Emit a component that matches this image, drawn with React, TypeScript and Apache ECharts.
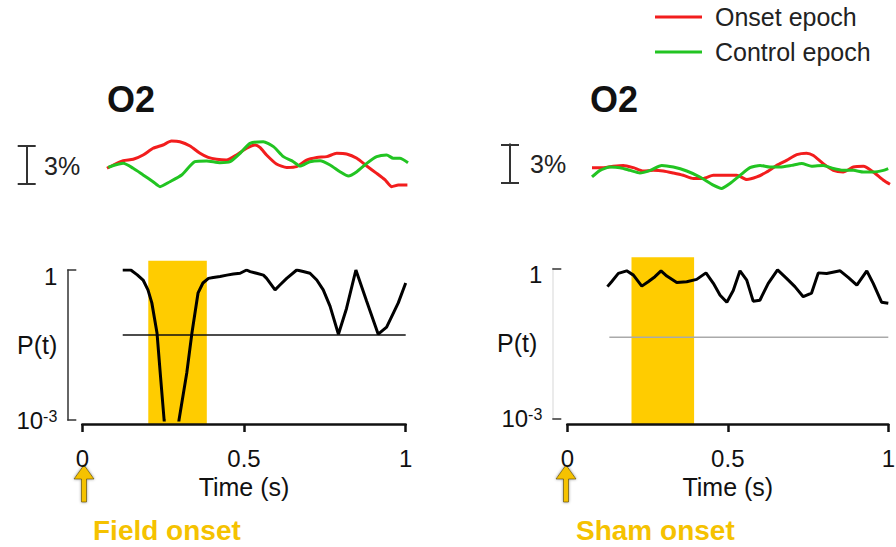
import React, { useEffect, useRef } from 'react';
import * as echarts from 'echarts';

// ---------- data ----------
const legendNames = ['Onset epoch', 'Control epoch'];
const timeTicks = [0, 0.5, 1];

// EEG traces (% relative, time 0..1 of upper panel)
const leftOnsetEpoch = [[0,1.24],[0.021,1.5],[0.054,1.84],[0.087,1.95],[0.12,2.29],[0.153,2.82],[0.186,3.08],[0.214,3.39],[0.242,3.34],[0.276,3.0],[0.309,2.42],[0.336,2.1],[0.364,1.95],[0.397,1.89],[0.43,2.29],[0.464,2.82],[0.492,3.08],[0.508,2.89],[0.53,2.29],[0.563,1.58],[0.597,1.31],[0.63,1.37],[0.663,1.89],[0.697,2.1],[0.73,2.16],[0.763,2.42],[0.796,2.37],[0.83,2.03],[0.863,1.42],[0.896,0.84],[0.924,0.32],[0.946,-0.21],[0.968,-0.08],[0.998,-0.08]];
const leftControlEpoch = [[0.004,1.31],[0.027,1.5],[0.054,1.63],[0.087,1.24],[0.12,0.71],[0.153,0.18],[0.176,-0.21],[0.209,0.18],[0.248,0.71],[0.292,1.76],[0.331,1.82],[0.375,1.68],[0.409,1.76],[0.442,2.42],[0.475,3.21],[0.519,3.34],[0.553,2.95],[0.586,2.16],[0.619,1.76],[0.641,1.42],[0.674,1.76],[0.708,1.84],[0.741,1.5],[0.774,0.97],[0.802,0.63],[0.83,0.97],[0.863,1.63],[0.896,2.16],[0.929,2.29],[0.951,2.03],[0.973,2.03],[1.0,1.68]];
const rightOnsetEpoch = [[0,1.18],[0.038,1.18],[0.071,1.29],[0.105,1.36],[0.139,1.18],[0.172,0.92],[0.206,0.97],[0.239,0.92],[0.273,0.76],[0.306,0.58],[0.34,0.33],[0.373,0.33],[0.407,0.58],[0.452,0.58],[0.486,0.58],[0.519,0.25],[0.553,0.45],[0.586,0.84],[0.62,1.36],[0.653,1.75],[0.687,2.2],[0.72,2.32],[0.743,2.14],[0.776,1.5],[0.81,0.97],[0.843,0.84],[0.877,1.23],[0.911,1.29],[0.944,0.84],[0.978,0.19],[1.0,-0.12]];
const rightControlEpoch = [[0,0.45],[0.027,0.97],[0.06,1.23],[0.094,1.18],[0.128,0.97],[0.161,0.76],[0.195,0.97],[0.234,1.36],[0.273,1.23],[0.318,0.92],[0.362,0.45],[0.407,-0.19],[0.435,-0.45],[0.463,-0.06],[0.497,0.58],[0.53,1.18],[0.564,1.36],[0.597,1.23],[0.631,1.23],[0.67,1.36],[0.704,1.5],[0.737,1.29],[0.776,1.36],[0.81,1.11],[0.843,0.97],[0.877,0.97],[0.911,0.84],[0.944,0.84],[0.978,0.97],[0.994,1.11]];

// P(t) curves: [time s, probability]
const leftP = [[0.125,1.0],[0.15,1.0],[0.17,0.8],[0.188,0.63],[0.203,0.4],[0.215,0.22],[0.231,0.055],[0.241,0.0087],[0.253,0.001],[0.276,0.00002],[0.299,0.001],[0.323,0.0087],[0.339,0.055],[0.358,0.35],[0.373,0.55],[0.39,0.68],[0.405,0.71],[0.426,0.74],[0.447,0.79],[0.467,0.83],[0.488,0.86],[0.508,1.0],[0.519,0.93],[0.539,0.86],[0.56,0.79],[0.57,0.68],[0.596,0.4],[0.611,0.5],[0.632,0.68],[0.663,1.0],[0.683,0.93],[0.704,0.86],[0.725,0.63],[0.745,0.4],[0.766,0.19],[0.792,0.052],[0.817,0.17],[0.846,1.0],[0.879,0.24],[0.915,0.052],[0.941,0.072],[0.977,0.22],[1.0,0.55]];
const rightP = [[0.125,0.43],[0.138,0.54],[0.159,0.79],[0.185,0.89],[0.206,0.73],[0.232,0.44],[0.252,0.54],[0.273,0.68],[0.292,0.89],[0.31,0.7],[0.341,0.52],[0.372,0.54],[0.403,0.6],[0.432,0.81],[0.455,0.5],[0.476,0.29],[0.497,0.21],[0.517,0.36],[0.538,0.89],[0.559,0.58],[0.579,0.22],[0.6,0.23],[0.626,0.5],[0.655,0.93],[0.683,0.63],[0.709,0.43],[0.735,0.27],[0.761,0.32],[0.782,0.81],[0.808,0.79],[0.85,0.89],[0.875,0.66],[0.902,0.46],[0.933,0.89],[0.953,0.5],[0.979,0.21],[1.0,0.2]];

const leftThreshold = [[0.125, 0.05], [1.0, 0.05]];
const rightThreshold = [[0.131, 0.042], [1.0, 0.042]];
const leftWindow = [[0.204, 0.385]];
const rightWindow = [[0.2, 0.395]];

const FONT = 'Liberation Sans, Arial, Helvetica, sans-serif';
const RED = '#f21d1d';
const GREEN = '#22c422';
const YELLOW = '#ffcc00';
const ARROW = '#f5c200';

const toLog = (arr: number[][]) => arr.map(([t, p]) => [t, Math.log10(p)]);

function pLabel(v: number) {
  if (v === 0) return '{one|1}';
  if (v === -3) return '{b|10}{s|-3}';
  return '';
}

function windowRender(params: any, api: any) {
  const a = api.coord([api.value(0), 1]);
  const b = api.coord([api.value(1), 0]);
  return {
    type: 'rect',
    shape: { x: a[0], y: a[1], width: b[0] - a[0], height: b[1] - a[1] },
    style: { fill: YELLOW },
  };
}

function arrow(cx: number) {
  return {
    type: 'polygon',
    shape: {
      points: [[cx, 465], [cx + 10, 479], [cx + 2.5, 479], [cx + 2.5, 502], [cx - 2.5, 502], [cx - 2.5, 479], [cx - 10, 479]],
    },
    style: { fill: ARROW, stroke: 'rgba(70,55,0,0.55)', lineWidth: 1, shadowBlur: 3, shadowColor: 'rgba(0,0,0,0.45)' },
  };
}

function barAxis(gridIndex: number, offset: number, inside: boolean) {
  return {
    type: 'value', gridIndex, min: 0, max: 3, interval: 3, position: 'left', offset,
    axisLine: { show: true, onZero: false, lineStyle: { color: '#333', width: 2 } },
    axisTick: { show: true, inside, length: 9, lineStyle: { color: '#333', width: 2 } },
    axisLabel: { show: false }, splitLine: { show: false },
  };
}

function pAxis(gridIndex: number, lineColor: string, nameGap: number) {
  return {
    type: 'value', gridIndex, min: -3, max: 0, interval: 3, position: 'left', offset: 15,
    name: 'P(t)', nameLocation: 'middle', nameRotate: 0, nameGap, nameMoveOverlap: false,
    nameTextStyle: { fontSize: 25, color: '#111', fontFamily: FONT, padding: [8, 0, 0, 0] },
    axisLine: { show: true, onZero: false, lineStyle: { color: lineColor, width: 1.5 } },
    axisTick: { show: true, inside: true, length: 9, lineStyle: { color: '#333', width: 1.5 } },
    axisLabel: {
      formatter: pLabel, margin: 10, color: '#111', fontFamily: FONT,
      rich: {
        one: { fontSize: 24, fontFamily: FONT, color: '#111', padding: [12, 0, 0, 0] },
        b: { fontSize: 24, fontFamily: FONT, color: '#111', verticalAlign: 'bottom' },
        s: { fontSize: 16, fontFamily: FONT, color: '#111', verticalAlign: 'top' },
      },
    },
    splitLine: { show: false },
  };
}

function timeAxis(gridIndex: number) {
  return {
    type: 'value', gridIndex, min: 0, max: 1, interval: 0.5, z: 5,
    name: 'Time (s)', nameLocation: 'middle', nameGap: 50,
    nameTextStyle: { fontSize: 25, color: '#111', fontFamily: FONT },
    axisLine: { show: true, lineStyle: { color: '#111', width: 2.5 } },
    axisTick: { show: true, length: 8, lineStyle: { color: '#111', width: 2.5 } },
    axisLabel: { fontSize: 24, color: '#111', margin: 22, fontFamily: FONT, formatter: (v: number) => (timeTicks.includes(v) ? String(v) : '') },
    splitLine: { show: false },
  };
}

const hiddenX = (gridIndex: number) => ({ type: 'value', gridIndex, min: 0, max: 1, show: false });
const hiddenY = (gridIndex: number) => ({ type: 'value', gridIndex, min: 0, max: 1, show: false });

function eegSeries(name: string, color: string, data: number[][], axis: number) {
  return {
    type: 'line', name, data, xAxisIndex: axis, yAxisIndex: axis, symbol: 'none', clip: false,
    smooth: 0.2, lineStyle: { color, width: 3 }, itemStyle: { color }, z: 3,
  };
}

const g = (o: any) => ({ ...o, containLabel: false, outerBoundsMode: 'none' });

export default function App() {
  const ref = useRef<HTMLDivElement>(null);
  useEffect(() => {
    if (!ref.current) return;
    const chart = echarts.init(ref.current, undefined, { renderer: 'svg' });
    const option: any = {
      animation: false,
      backgroundColor: '#fff',
      textStyle: { fontFamily: FONT },
      legend: {
        data: legendNames.map((name) => ({ name, icon: 'rect' })),
        orient: 'vertical', left: 655, top: 4, padding: 0,
        itemWidth: 47, itemHeight: 3, itemGap: 9,
        textStyle: { fontSize: 25, color: '#222', fontFamily: FONT, lineHeight: 26, padding: [0, 0, 0, 8] },
      },
      grid: [
        g({ left: 107, top: 146, width: 301, height: 38 }),
        g({ left: 82.3, top: 270, width: 323.4, height: 150 }),
        g({ left: 82.3, top: 260.7, width: 323.4, height: 163.3 }),
        g({ left: 592, top: 144.5, width: 298, height: 38.2 }),
        g({ left: 567.3, top: 268.3, width: 321, height: 150 }),
        g({ left: 567.3, top: 257.3, width: 321, height: 166.7 }),
        g({ left: 26.7, top: 146, width: 10, height: 38 }),
        g({ left: 510, top: 144.5, width: 10, height: 38.2 }),
      ],
      xAxis: [hiddenX(0), hiddenX(1), timeAxis(2), hiddenX(3), hiddenX(4), timeAxis(5), hiddenX(6), hiddenX(7)],
      yAxis: [
        barAxis(0, 80.3, false),
        pAxis(1, '#333', 10),
        hiddenY(2),
        barAxis(3, 82, false),
        pAxis(4, '#e4e4e4', 15),
        hiddenY(5),
        barAxis(6, 0, true),
        barAxis(7, 0, true),
      ],
      series: [
        eegSeries(legendNames[0], RED, leftOnsetEpoch, 0),
        eegSeries(legendNames[1], GREEN, leftControlEpoch, 0),
        eegSeries(legendNames[0], RED, rightOnsetEpoch, 3),
        eegSeries(legendNames[1], GREEN, rightControlEpoch, 3),
        { type: 'custom', xAxisIndex: 2, yAxisIndex: 2, data: leftWindow, renderItem: windowRender, z: 1, silent: true },
        { type: 'custom', xAxisIndex: 5, yAxisIndex: 5, data: rightWindow, renderItem: windowRender, z: 1, silent: true },
        { type: 'line', xAxisIndex: 1, yAxisIndex: 1, data: toLog(leftThreshold), symbol: 'none', lineStyle: { color: '#111', width: 1.5 }, z: 2 },
        { type: 'line', xAxisIndex: 4, yAxisIndex: 4, data: toLog(rightThreshold), symbol: 'none', lineStyle: { color: '#aaa', width: 1.5 }, z: 2 },
        { type: 'line', xAxisIndex: 1, yAxisIndex: 1, data: toLog(leftP), symbol: 'none', clip: true, lineStyle: { color: '#000', width: 3 }, z: 3 },
        { type: 'line', xAxisIndex: 4, yAxisIndex: 4, data: toLog(rightP), symbol: 'none', clip: true, lineStyle: { color: '#000', width: 3 }, z: 3 },
      ],
      graphic: [
        { type: 'text', x: 107, y: 99, style: { text: 'O2', fontSize: 36, fontWeight: 'bold', fontFamily: FONT, fill: '#111', verticalAlign: 'middle' } },
        { type: 'text', x: 590, y: 99, style: { text: 'O2', fontSize: 36, fontWeight: 'bold', fontFamily: FONT, fill: '#111', verticalAlign: 'middle' } },
        { type: 'text', x: 44, y: 166, style: { text: '3%', fontSize: 25, fontFamily: FONT, fill: '#222', verticalAlign: 'middle' } },
        { type: 'text', x: 530, y: 164, style: { text: '3%', fontSize: 25, fontFamily: FONT, fill: '#222', verticalAlign: 'middle' } },
        arrow(84),
        arrow(566),
        { type: 'text', x: 93, y: 530, style: { text: 'Field onset', fontSize: 28, fontWeight: 'bold', fontFamily: FONT, fill: ARROW, verticalAlign: 'middle', shadowBlur: 3, shadowColor: 'rgba(0,0,0,0.6)' } },
        { type: 'text', x: 576, y: 530, style: { text: 'Sham onset', fontSize: 28, fontWeight: 'bold', fontFamily: FONT, fill: ARROW, verticalAlign: 'middle', shadowBlur: 3, shadowColor: 'rgba(0,0,0,0.6)' } },
      ],
    };
    chart.setOption(option);
    return () => chart.dispose();
  }, []);
  return <div ref={ref} style={{ position: 'fixed', left: 0, top: 0, width: 896, height: 547 }} />;
}
